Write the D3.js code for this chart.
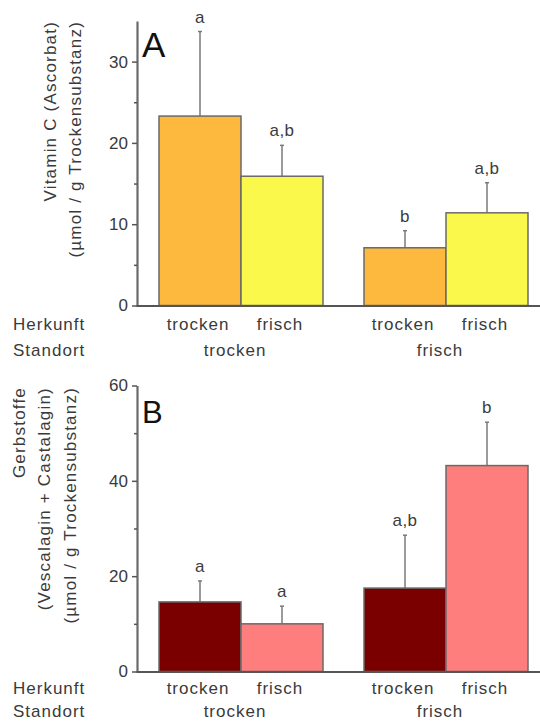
<!DOCTYPE html>
<html><head><meta charset="utf-8">
<script src="https://cdn.jsdelivr.net/npm/d3@7"></script>
<style>
html,body{margin:0;padding:0;background:#fff;}
svg{display:block;}
text{font-family:"Liberation Sans",Arial,sans-serif;}
</style></head>
<body>
<svg id="chart" width="540" height="722"></svg>
<script>
// ---- data ----
const standorte = ["trocken", "frisch"];          // Standort (groups)
const herkunft = ["trocken", "frisch"];           // Herkunft (bars within group)
const vitC = [23.3, 15.9, 7.1, 11.4];             // Vitamin C means
const vitCErr = [10.4, 3.8, 2.1, 3.7];            // Vitamin C error (upper)
const vitCLetters = ["a", "a,b", "b", "a,b"];
const gerb = [14.6, 10.0, 17.5, 43.2];            // Gerbstoffe means
const gerbErr = [4.4, 3.7, 11.1, 9.1];            // Gerbstoffe error (upper)
const gerbLetters = ["a", "a", "a,b", "b"];
const vitCTicks = [0, 10, 20, 30];
const vitCMinor = [5, 15, 25];
const gerbTicks = [0, 20, 40, 60];
const gerbMinor = [10, 30, 50];

const svg = d3.select("#chart");
const xAxisX = 137;

const xGroup = d3.scaleBand().domain(standorte).range([159, 528]).paddingInner(0.2).paddingOuter(0);
const xBar = d3.scaleBand().domain(herkunft).range([0, xGroup.bandwidth()]).padding(0);

function panel(cfg) {
  const g = svg.append("g");
  const y = d3.scaleLinear().domain(cfg.domain).range(cfg.range);
  const rows = [];
  standorte.forEach((s, i) => herkunft.forEach((h, j) => {
    const k = i * herkunft.length + j;
    rows.push({s, h, v: cfg.values[k], e: cfg.err[k], l: cfg.letters[k]});
  }));

  // error bars (drawn behind bars)
  const eb = g.append("g").attr("stroke", "#7a7a7a").attr("stroke-width", 1.5);
  rows.forEach(d => {
    const cx = xGroup(d.s) + xBar(d.h) + xBar.bandwidth() / 2;
    eb.append("line").attr("x1", cx).attr("x2", cx).attr("y1", y(d.v)).attr("y2", y(d.v + d.e));
    eb.append("line").attr("x1", cx - 2).attr("x2", cx + 2).attr("y1", y(d.v + d.e)).attr("y2", y(d.v + d.e));
  });

  g.append("g").selectAll("rect").data(rows).join("rect")
    .attr("x", d => xGroup(d.s) + xBar(d.h))
    .attr("width", xBar.bandwidth())
    .attr("y", d => y(d.v))
    .attr("height", d => y(0) - y(d.v))
    .attr("fill", d => cfg.colors[d.h])
    .attr("stroke", "#6a6a6a").attr("stroke-width", 1.5);

  g.append("g").selectAll("text").data(rows).join("text")
    .attr("x", d => xGroup(d.s) + xBar(d.h) + xBar.bandwidth() / 2)
    .attr("y", d => y(d.v + d.e) - 9)
    .attr("text-anchor", "middle")
    .attr("font-size", 17).attr("letter-spacing", 0.5)
    .attr("fill", "#3c3c3c")
    .text(d => d.l);

  // y axis
  const ax = g.append("g").attr("transform", `translate(${xAxisX},0)`)
    .call(d3.axisLeft(y).tickValues(cfg.ticks).tickSize(5).tickSizeOuter(0).tickPadding(4).tickFormat(d3.format("d")));
  ax.select(".domain").attr("stroke", "#6a6a6a").attr("stroke-width", 2.2);
  ax.selectAll(".tick line").attr("stroke", "#555").attr("stroke-width", 1.5);
  ax.selectAll(".tick text").attr("font-size", 17).attr("fill", "#3a3a3a")
    .attr("font-family", "Liberation Sans, Arial, sans-serif");
  const axm = g.append("g").attr("transform", `translate(${xAxisX},0)`)
    .call(d3.axisLeft(y).tickValues(cfg.minor).tickSize(3).tickSizeOuter(0).tickFormat(""));
  axm.select(".domain").remove();
  axm.selectAll(".tick line").attr("stroke", "#555").attr("stroke-width", 1.5);

  // x axis line
  const xa = g.append("g").attr("transform", `translate(0,${y(0)})`)
    .call(d3.axisBottom(d3.scaleLinear().domain([0, 1]).range([xAxisX - 1, 540])).tickValues([]).tickSizeOuter(0));
  xa.select(".domain").attr("stroke", "#555").attr("stroke-width", 2);

  // category labels
  const lab = g.append("g").attr("font-size", 17).attr("letter-spacing", 1).attr("fill", "#3a3a3a");
  lab.append("text").attr("x", 13).attr("y", y(0) + cfg.row1).text("Herkunft");
  lab.append("text").attr("x", 13).attr("y", y(0) + cfg.row2).text("Standort");
  rows.forEach(d => {
    lab.append("text").attr("x", xGroup(d.s) + xBar(d.h) + xBar.bandwidth() / 2 - 2)
      .attr("y", y(0) + cfg.row1).attr("text-anchor", "middle").text(d.h);
  });
  standorte.forEach(s => {
    lab.append("text").attr("x", xGroup(s) + xGroup.bandwidth() / 2 - 6)
      .attr("y", y(0) + cfg.row2).attr("text-anchor", "middle").text(s);
  });

  // panel letter
  g.append("text").attr("x", 142).attr("y", cfg.letterY).attr("font-size", cfg.letterSize)
    .attr("fill", "#111").text(cfg.letter);

  // y title
  const tt = g.append("g").attr("font-size", 17).attr("letter-spacing", 1.2).attr("fill", "#3a3a3a");
  cfg.title.forEach((t, i) => {
    tt.append("text").attr("transform", `translate(${cfg.titleX[i]},${cfg.titleTop}) rotate(-90)`)
      .attr("text-anchor", "end").text(t);
  });
}

panel({
  domain: [0, 35], range: [305.5, 305.5 - 35 * 8.13],
  values: vitC, err: vitCErr, letters: vitCLetters,
  ticks: vitCTicks, minor: vitCMinor,
  colors: {trocken: "#fdb93e", frisch: "#fbf84c"},
  letter: "A", letterY: 57, letterSize: 35,
  row1: 24, row2: 50,
  title: ["Vitamin C (Ascorbat)", "(µmol / g Trockensubstanz)"],
  titleX: [56, 81], titleTop: 21
});

panel({
  domain: [0, 60], range: [671.5, 385.5],
  values: gerb, err: gerbErr, letters: gerbLetters,
  ticks: gerbTicks, minor: gerbMinor,
  colors: {trocken: "#7a0000", frisch: "#fe7d7d"},
  letter: "B", letterY: 422.5, letterSize: 31,
  row1: 22, row2: 45,
  title: ["Gerbstoffe", "(Vescalagin + Castalagin)", "(µmol / g Trockensubstanz)"],
  titleX: [25, 50, 76], titleTop: 387
});
</script>
</body></html>
